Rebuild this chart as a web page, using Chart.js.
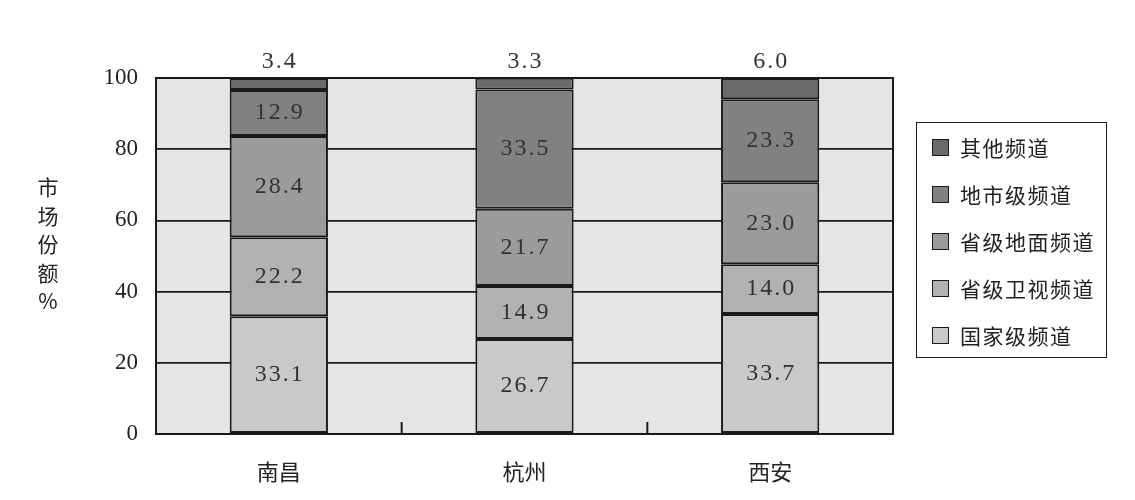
<!DOCTYPE html>
<html><head><meta charset="utf-8">
<script src="https://cdn.jsdelivr.net/npm/chart.js@4"></script>
<style>
html,body{margin:0;padding:0;background:#fff;}
#wrap{position:relative;width:1135px;height:500px;}
canvas{position:absolute;left:0;top:0;}
#ytitle{position:absolute;left:36px;top:172px;width:24px;text-align:center;font:21px "Noto Sans CJK SC";color:#222;line-height:28.5px;}
#legend{position:absolute;left:916px;top:122px;width:191px;height:236px;border:1.8px solid #1a1a1a;box-sizing:border-box;font:21px "Noto Sans CJK SC";color:#222;letter-spacing:1.5px;}
.li{position:absolute;left:15px;height:26px;display:flex;align-items:center;}
.sw{width:15px;height:15px;border:1.8px solid #1a1a1a;margin-right:11px;}
</style></head>
<body><div id="wrap"><canvas id="c" width="1135" height="500"></canvas>
<div id="ytitle">市<br>场<br>份<br>额<br>%</div>
<div id="legend"></div></div>
<script>
const categories = ['南昌','杭州','西安'];
const seriesNames = ['国家级频道','省级卫视频道','省级地面频道','地市级频道','其他频道'];
const national   = [33.1, 26.7, 33.7];
const satellite  = [22.2, 14.9, 14.0];
const provincial = [28.4, 21.7, 23.0];
const city       = [12.9, 33.5, 23.3];
const other      = [3.4, 3.3, 6.0];
const yTicks = [0,20,40,60,80,100];
const colors = ['#c9c9c9','#b1b1b1','#9b9b9b','#818181','#6a6a6a'];
const seriesValues = [national, satellite, provincial, city, other];

const datasets = seriesValues.map((v,i)=>({
  label: seriesNames[i], data: v, backgroundColor: colors[i],
  borderColor:'#1a1a1a', borderWidth:2, borderSkipped:false,
  barPercentage:0.4, categoryPercentage:1
}));

const bgPlugin = {
  id:'bg',
  beforeDraw(chart){
    const {ctx, chartArea:a} = chart;
    ctx.save(); ctx.fillStyle='#e5e5e5';
    ctx.fillRect(a.left,a.top,a.right-a.left,a.bottom-a.top); ctx.restore();
  },
  afterDatasetsDraw(chart){
    const {ctx, chartArea:a} = chart;
    ctx.save();
    ctx.strokeStyle='#1a1a1a'; ctx.lineWidth=2;
    ctx.strokeRect(a.left,a.top,a.right-a.left,a.bottom-a.top);
    const xs = chart.scales.x;
    for(let i=0;i<categories.length-1;i++){
      const x=(xs.getPixelForTick(i)+xs.getPixelForTick(i+1))/2;
      ctx.beginPath(); ctx.moveTo(x,a.bottom); ctx.lineTo(x,a.bottom-12); ctx.stroke();
    }
    ctx.fillStyle='#333'; ctx.font='24px "Liberation Serif"';
    ctx.textAlign='center'; ctx.textBaseline='middle';
    if('letterSpacing' in ctx) ctx.letterSpacing='2px';
    chart.data.datasets.forEach((ds,di)=>{
      const meta=chart.getDatasetMeta(di);
      meta.data.forEach((el,j)=>{
        const txt=ds.data[j].toFixed(1);
        const y = di===chart.data.datasets.length-1 ? a.top-16 : (el.y+el.base)/2;
        ctx.fillText(txt, el.x+1, y);
      });
    });
    ctx.restore();
  }
};

new Chart(document.getElementById('c'),{
  type:'bar',
  data:{labels:categories, datasets},
  options:{
    responsive:false, animation:false,
    layout:{padding:{top:78,right:242,left:0,bottom:0}},
    plugins:{legend:{display:false},tooltip:{enabled:false}},
    scales:{
      x:{stacked:true, grid:{display:false}, border:{display:false},
         ticks:{color:'#222',font:{family:'Noto Sans CJK SC',size:22},padding:16},
         afterFit(s){s.height=66;}},
      y:{stacked:true, min:0, max:100, afterBuildTicks(s){s.ticks=yTicks.map(v=>({value:v}));},
         grid:{color:'#1a1a1a',lineWidth:1.8,drawTicks:false}, border:{display:false},
         ticks:{color:'#222',font:{family:'Liberation Serif',size:23},padding:18},
         afterFit(s){s.width=156;}}
    }
  },
  plugins:[bgPlugin]
});

const leg=document.getElementById('legend');
for(let k=seriesNames.length-1, r=0;k>=0;k--,r++){
  const d=document.createElement('div'); d.className='li';
  d.style.top=(11+r*47)+'px';
  d.innerHTML='<span class="sw" style="background:'+colors[k]+'"></span>'+seriesNames[k];
  leg.appendChild(d);
}
</script></body></html>
